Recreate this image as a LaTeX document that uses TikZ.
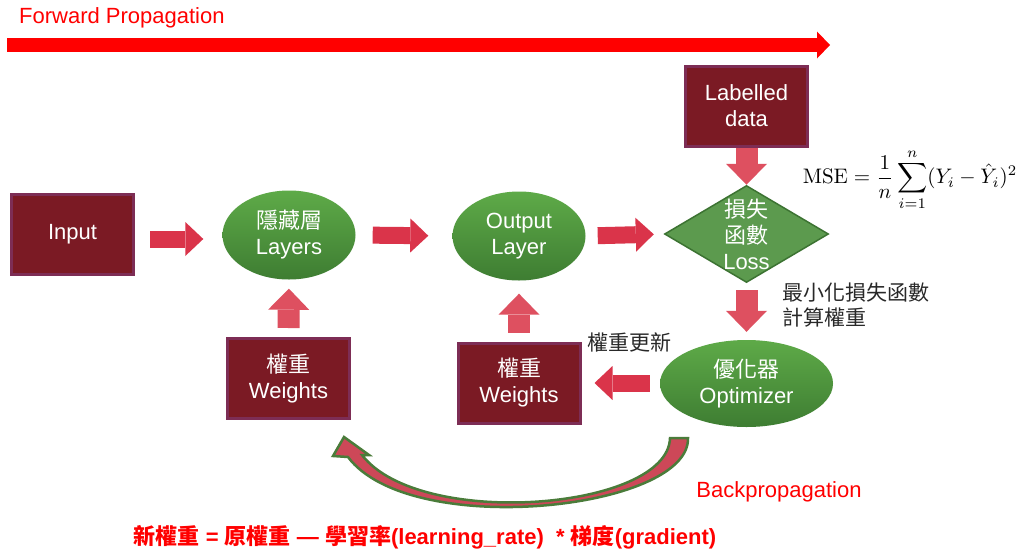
\documentclass[tikz,border=0pt]{standalone}
\usepackage[no-math]{fontspec}
\setmainfont{Liberation Sans}
\newfontfamily\zh{Noto Sans CJK TC}
\usetikzlibrary{shapes.geometric,arrows.meta}
\definecolor{boxred}{RGB}{123,26,36}
\definecolor{boxedge}{RGB}{125,45,85}
\definecolor{layertop}{RGB}{94,170,72}
\definecolor{layerbot}{RGB}{62,125,50}
\definecolor{lossgreen}{RGB}{92,154,78}
\definecolor{lossedge}{RGB}{60,115,50}
\definecolor{flowred}{RGB}{218,52,74}
\definecolor{uppink}{RGB}{222,80,96}
\definecolor{backred}{RGB}{205,72,88}
\definecolor{backedge}{RGB}{74,124,58}
\definecolor{note}{RGB}{40,40,40}
\tikzset{
  box/.style={draw=boxedge, line width=3pt, fill=boxred, text=white, minimum width=122pt, minimum height=80pt, inner sep=0pt, align=center, font=\fontsize{22}{26}\selectfont},
  layer/.style={ellipse, top color=layertop, bottom color=layerbot, text=white, minimum width=133pt, minimum height=89pt, inner sep=0pt, align=center, font=\fontsize{22}{26}\selectfont},
  flow/.style={draw=flowred, line width=17pt, -{Triangle[length=18pt,width=34pt,line width=0pt]}},
  flowv/.style={draw=uppink, line width=22pt, -{Triangle[length=21pt,width=41pt,line width=0pt]}},
}
\begin{document}
\begin{tikzpicture}[x=1pt,y=-1pt]
\useasboundingbox[fill=white] (0,0) rectangle (1024,554);
% forward pass
\node[anchor=base west, inner sep=0pt, text=red, font=\fontsize{22}{26}\selectfont] (fwdtext) at (19,23) {Forward Propagation};
\coordinate (fwdstart) at (7,45);
\coordinate (fwdend) at (830,45);
\draw[red, line width=14pt, -{Triangle[length=13pt,width=27pt,line width=0pt]}] (fwdstart) -- (fwdend);
% network
\node[box] (inp) at (72.5,234) {Input};
\node[layer] (hid) at (289,235) {{\zh 隱藏層}\\Layers};
\node[layer] (out) at (519,236) {Output\\Layer};
\node[diamond, fill=lossgreen, draw=lossedge, line width=1.5pt, minimum width=164pt, minimum height=97pt, inner sep=0pt] (loss) at (746.5,234) {};
\node[text=white, align=center, font=\fontsize{22}{26}\selectfont] (losstext) at (loss.center) {{\zh 損失}\\{\zh 函數}\\Loss};
\node[box] (lab) at (746.5,106) {Labelled\\data};
\node[box] (wone) at (288.5,378.5) {{\zh 權重}\\Weights};
\node[box] (wtwo) at (519,383) {{\zh 權重}\\Weights};
\node[layer, minimum width=173pt, minimum height=87pt] (opt) at (746.5,383.5) {{\zh 優化器}\\Optimizer};
% notes
\node[anchor=west, align=left, text=note, font=\zh\fontsize{21}{25}\selectfont, inner sep=0pt] (minloss) at (782,305.5) {最小化損失函數\\計算權重};
\node[text=note, font=\zh\fontsize{21}{25}\selectfont, inner sep=0pt] (update) at (629.5,342) {權重更新};
\node[scale=2.1, inner sep=0pt] (mse) at (910,180) {$\displaystyle \mathrm{MSE}=\frac{1}{n}\sum_{i=1}^{n}(Y_i-\hat{Y}_i)^2$};
\node[text=red, font=\fontsize{22}{26}\selectfont, inner sep=0pt] (backtext) at (779,492) {Backpropagation};
\node[text=red, font=\bfseries\fontsize{22}{26}\selectfont, inner sep=0pt] (rule) at (425,537) {{\zh 新權重} = {\zh 原權重} — {\zh 學習率}(learning\_rate) \ * {\zh 梯度}(gradient)};
% arrows
\draw[flow, shorten <=15pt, shorten >=19pt] ([yshift=-5pt]inp.east) -- ([yshift=-5pt]inp.east -| hid.west);
\draw[flow, shorten <=17pt, shorten >=24pt] (hid.east) -- (out.west);
\draw[flow, shorten <=12pt, shorten >=10pt] (out.east) -- (loss.west);
\draw[flowv] (lab.south) -- (loss.north);
\draw[flowv, shorten <=7pt, shorten >=8pt] (loss.south) -- (opt.north);
\draw[flowv, shorten <=9pt, shorten >=9pt] (wone.north) -- (hid.south);
\draw[flowv, shorten <=9pt, shorten >=13pt] (wtwo.north) -- (out.south);
\draw[flow, shorten <=10pt, shorten >=13pt] (opt.west |- wtwo.east) -- (wtwo.east);
% backward pass
\draw[fill=backred, draw=backedge, line width=2.5pt] (688,438) .. controls (690,510) and (410,540) .. (348,457) -- (333,456) -- (344,437) -- (369,455) -- (362,455) .. controls (420,530) and (668,510) .. (670,438) -- cycle;
\end{tikzpicture}
\end{document}
